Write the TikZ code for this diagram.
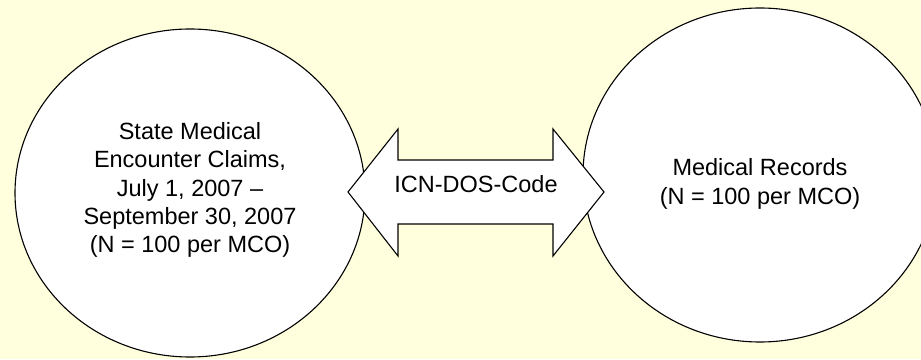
\documentclass[tikz,border=0pt]{standalone}
\usepackage{fontspec}
\setmainfont{Liberation Sans}
\usetikzlibrary{shapes.geometric}
\begin{document}
\begin{tikzpicture}[x=1pt,y=1pt,
  bubble/.style={draw=black,line width=1.1pt,fill=white,ellipse,inner sep=0pt},
  label/.style={align=center,font=\fontsize{23.5}{28.3}\selectfont,inner sep=0pt},
  link/.style={draw=black,line width=1.1pt,fill=white,line join=miter}]
  \definecolor{paper}{HTML}{FFFFDD}
  \useasboundingbox (0,0) rectangle (921,359);
  \clip (0,0) rectangle (921,359);
  \fill[paper] (0,0) rectangle (921,359);

  % the two data sources
  \node[bubble,minimum width=350pt,minimum height=328pt] (claims) at (190,166) {};
  \node[bubble,minimum width=354pt,minimum height=334pt] (records) at (760,184) {};

  % linking key: double-headed block arrow between the sources
  \coordinate (ltip) at (348,167);
  \coordinate (rtip) at (604,167);
  \path[link] (ltip) -- (398,230) -- (398,199) -- (553,199) -- (553,230)
    -- (rtip) -- (553,103) -- (553,135) -- (398,135) -- (398,103) -- cycle;

  \node[label] (claimstext) at (190,169)
    {State Medical\\Encounter Claims,\\July 1, 2007 --\\September 30, 2007\\(N = 100 per MCO)};
  \node[label] (recordstext) at (760,175) {Medical Records\\(N = 100 per MCO)};
  \node[label] (key) at (476,175) {ICN-DOS-Code};
\end{tikzpicture}
\end{document}
